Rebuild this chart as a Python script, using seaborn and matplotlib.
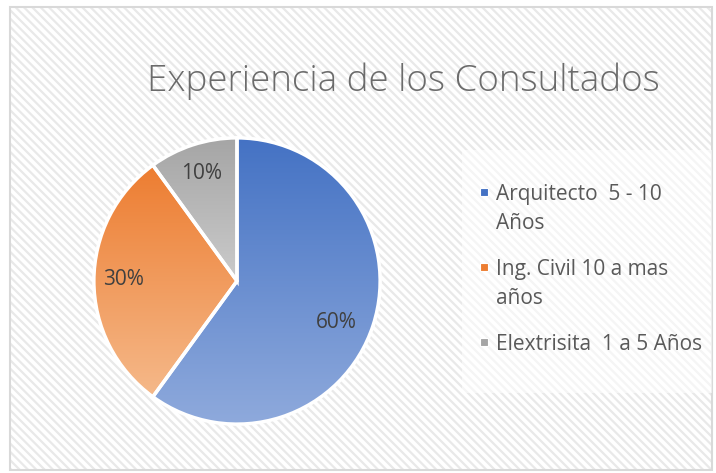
import matplotlib.pyplot as plt
import matplotlib.patches as mpatches
import numpy as np
import seaborn as sns

labels = ["Arquitecto  5 - 10\nAños", "Ing. Civil 10 a mas\naños", "Elextrisita  1 a 5 Años"]
values = [60, 30, 10]
pct_labels = ["60%", "30%", "10%"]
top_colors = ["#4472C4", "#ED7D31", "#A5A5A5"]
bottom_colors = ["#8FAADC", "#F5B98A", "#CBCBCB"]

sns.set_style("white")
plt.rcParams['font.family'] = ['Open Sans', 'DejaVu Sans']
plt.rcParams['hatch.linewidth'] = 1.6

W, H = 716, 473
fig = plt.figure(figsize=(W / 100, H / 100), dpi=100)

# hatched chart background + border
bg = mpatches.Rectangle((10 / W, 1 - 470 / H), 702 / W, 463 / H, transform=fig.transFigure,
                        facecolor="white", edgecolor="#e9e9e9", lw=0, hatch="\\\\\\\\", zorder=-3)
fig.patches.append(bg)
border = mpatches.Rectangle((10 / W, 1 - 470 / H), 702 / W, 463 / H, transform=fig.transFigure,
                            facecolor="none", edgecolor="#d9d9d9", lw=1.5, zorder=-2)
fig.patches.append(border)
legbg = mpatches.Rectangle((462 / W, 1 - 393 / H), 250 / W, 243 / H, transform=fig.transFigure,
                           facecolor="white", edgecolor="none", alpha=0.55, zorder=-2)
fig.patches.append(legbg)

fig.text(403 / W, 1 - 81 / H, "Experiencia de los Consultados", ha="center", va="center",
         fontsize=26.5, color="#6b6b6b", fontweight="light")

cx, cy, r = 237, 281, 146
ax = fig.add_axes([(cx - r) / W, 1 - (cy + r) / H, 2 * r / W, 2 * r / H])
wedges, _ = ax.pie(values, startangle=90, counterclock=False, radius=1,
                   wedgeprops=dict(edgecolor="white", linewidth=2.5))

grad = np.linspace(1, 0, 256).reshape(-1, 1)
for w, c0, c1 in zip(wedges, top_colors, bottom_colors):
    v = w.get_path().vertices
    ymin, ymax = v[:, 1].min(), v[:, 1].max()
    cmap = sns.blend_palette([c1, c0], n_colors=256, as_cmap=True)
    w.set_facecolor("none")
    im = ax.imshow(grad, cmap=cmap, extent=[-1, 1, ymin, ymax], aspect="auto",
                   origin="upper", zorder=1)
    im.set_clip_path(w)
    w.set_zorder(2)
ax.set_xlim(-1.02, 1.02)
ax.set_ylim(-1.02, 1.02)
ax.set_aspect("equal")
ax.axis("off")

# percentage labels placed around each wedge's mid angle
cum = np.cumsum([0] + values)
radii = [0.75, 0.79, 0.79]
nudge = [-5, -1, 0]
for i, t in enumerate(pct_labels):
    mid = 90 - 360 * (cum[i] + cum[i + 1]) / 2 / sum(values) + nudge[i]
    ax.text(radii[i] * np.cos(np.radians(mid)), radii[i] * np.sin(np.radians(mid)), t,
            ha="center", va="center", fontsize=15, color="#404040", zorder=3)

# legend drawn by hand so the marker sits on the first line of each entry
y = 192
for lab, c0, c1 in zip(labels, top_colors, bottom_colors):
    sq = mpatches.Rectangle(((484 - 4) / W, 1 - (y + 4) / H), 8 / W, 8 / H,
                            transform=fig.transFigure, facecolor=c0, edgecolor="white", lw=0.8)
    fig.patches.append(sq)
    for k, line in enumerate(lab.split("\n")):
        fig.text(496 / W, 1 - (y + 29 * k) / H, line, ha="left", va="center_baseline",
                 fontsize=15, color="#595959")
    y += 29 * (lab.count("\n")) + 46

fig.savefig("out.png", dpi=100)
